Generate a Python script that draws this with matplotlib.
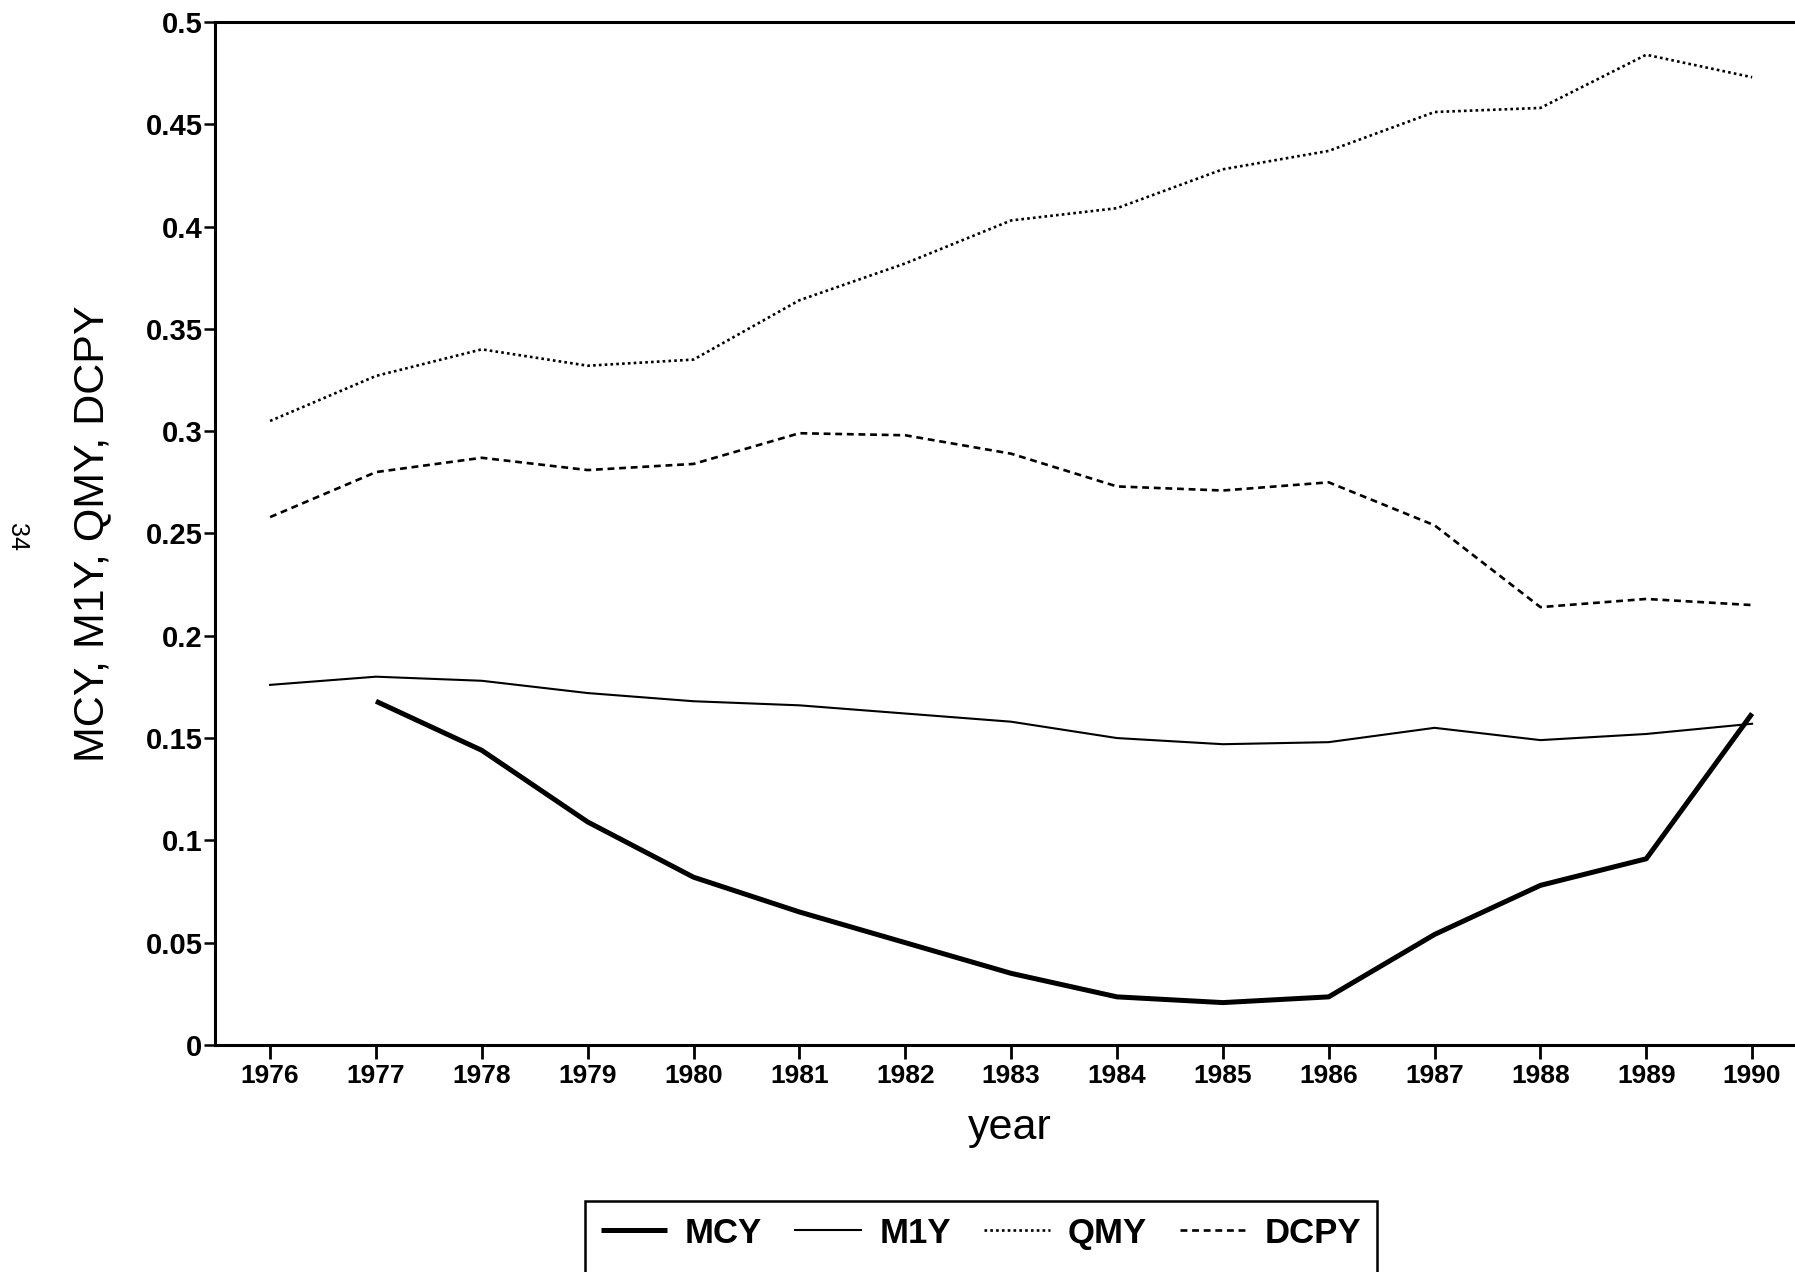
import matplotlib
matplotlib.use('Agg')
import matplotlib.pyplot as plt
from matplotlib.patches import Rectangle

# annual ratios to GDP, 1976-1990
years = [1976, 1977, 1978, 1979, 1980, 1981, 1982, 1983,
         1984, 1985, 1986, 1987, 1988, 1989, 1990]

mcy_years = years[1:]  # MCY series starts in 1977
mcy = [0.168, 0.144, 0.109, 0.082, 0.065, 0.050, 0.035,
       0.0235, 0.0207, 0.0235, 0.054, 0.078, 0.091, 0.162]
m1y = [0.176, 0.180, 0.178, 0.172, 0.168, 0.166, 0.162, 0.158,
       0.150, 0.147, 0.148, 0.155, 0.149, 0.152, 0.157]
qmy = [0.305, 0.327, 0.340, 0.332, 0.335, 0.364, 0.382, 0.403,
       0.409, 0.428, 0.437, 0.456, 0.458, 0.484, 0.473]
dcpy = [0.258, 0.280, 0.287, 0.281, 0.284, 0.299, 0.298, 0.289,
        0.273, 0.271, 0.275, 0.254, 0.214, 0.218, 0.215]

yticks = [0, 0.05, 0.1, 0.15, 0.2, 0.25, 0.3, 0.35, 0.4, 0.45, 0.5]
ytick_labels = ['0', '0.05', '0.1', '0.15', '0.2', '0.25',
                '0.3', '0.35', '0.4', '0.45', '0.5']

plt.rcParams['font.family'] = ['Liberation Sans', 'DejaVu Sans']

fig = plt.figure(figsize=(17.95, 12.72), dpi=100)
ax = fig.add_axes([0.1198, 0.1785, 0.8858, 0.8042])

ax.plot(mcy_years, mcy, color='black', lw=3.6, solid_capstyle='butt', label='MCY')
ax.plot(years, m1y, color='black', lw=1.5, label='M1Y')
ax.plot(years, qmy, color='black', lw=1.9, linestyle=(0, (1, 1.2)), label='QMY')
ax.plot(years, dcpy, color='black', lw=1.9, linestyle=(0, (2.6, 1.8)), label='DCPY')

ax.set_xlim(1975.48, 1990.5)
ax.set_ylim(0, 0.5)
ax.set_xticks(years)
ax.set_xticklabels([str(y) for y in years], fontsize=19, fontweight='bold')
ax.set_yticks(yticks)
ax.set_yticklabels(ytick_labels, fontsize=21, fontweight='bold')

for s in ax.spines.values():
    s.set_linewidth(2.2)
ax.tick_params(axis='y', direction='out', length=8, width=1.8, pad=1)
ax.tick_params(axis='x', direction='out', length=10, width=2, pad=4)

ax.set_xlabel('year', fontsize=31, labelpad=14)
ax.set_ylabel('MCY, M1Y, QMY, DCPY', fontsize=31, labelpad=24)

leg = fig.legend(loc='upper center', bbox_to_anchor=(0.5465, 0.0558), ncol=4,
                 prop={'size': 25, 'weight': 'bold'}, frameon=True, fancybox=False,
                 handlelength=1.9, columnspacing=0.95, handletextpad=0.52,
                 borderpad=0.45, borderaxespad=0)
leg.get_frame().set_edgecolor('none')
leg.get_frame().set_facecolor('none')

# legend box runs off the bottom of the page
fig.canvas.draw()
bb = leg.get_frame().get_window_extent().transformed(fig.transFigure.inverted())
fig.add_artist(Rectangle((bb.x0, -0.05), bb.width, bb.y1 + 0.05,
                         transform=fig.transFigure, fill=False,
                         edgecolor='black', lw=1.8))

# page number in the margin
fig.text(0.0095, 0.578, '34', rotation=-90, fontsize=18, ha='center', va='center')

fig.savefig('out.png', dpi=100)
